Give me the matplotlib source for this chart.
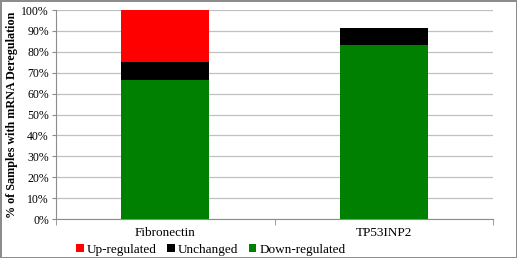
import numpy as np
import matplotlib
matplotlib.use('Agg')
import matplotlib.pyplot as plt
from matplotlib.ticker import PercentFormatter

# Data (percent of samples)
genes = ['Fibronectin', 'TP53INP2']
down_regulated = [66.7, 83.3]
unchanged = [8.3, 8.3]
up_regulated = [25.0, 0.0]

plt.rcParams['font.family'] = ['Liberation Serif', 'DejaVu Serif']

fig = plt.figure(figsize=(5.17, 2.58), dpi=100)
fig.patch.set_edgecolor('#8c8c8c')
fig.patch.set_linewidth(2)
ax = fig.add_axes([0.108, 0.151, 0.846, 0.810])

x = np.arange(len(genes))
width = 0.4
down = np.array(down_regulated)
unch = np.array(unchanged)
up = np.array(up_regulated)

# Stacked bars: down at the bottom, then unchanged, then up
ax.bar(x, down, width, color='#008000', label='Down-regulated', zorder=3)
ax.bar(x, unch, width, bottom=down, color='#000000', label='Unchanged', zorder=3)
ax.bar(x, up, width, bottom=down + unch, color='#ff0000', label='Up-regulated', zorder=3)

ax.set_xlim(-0.5, len(genes) - 0.5)
ax.set_ylim(0, 100)
ax.set_yticks(np.arange(0, 101, 10))
ax.yaxis.set_major_formatter(PercentFormatter(decimals=0))
ax.set_xticks(x)
ax.set_xticklabels(genes)
ax.tick_params(axis='x', length=0, labelsize=9.5, pad=6)
ax.tick_params(axis='y', length=3, labelsize=8.5, color='#8c8c8c', pad=2)

# Category boundary ticks on the x axis
ax.set_xticks([-0.5, 0.5, 1.5], minor=True)
ax.tick_params(axis='x', which='minor', length=4, color='#8c8c8c')

ax.grid(axis='y', color='#c0c0c0', linewidth=0.9, zorder=0)
for side in ['top', 'right']:
    ax.spines[side].set_visible(False)
ax.spines['left'].set_color('#8c8c8c')
ax.spines['bottom'].set_color('#8c8c8c')

ax.set_ylabel('% of Samples with mRNA Deregulation', fontsize=8.7, fontweight='bold', labelpad=2)

# Legend order: up, unchanged, down
handles, labels = ax.get_legend_handles_labels()
order = [2, 1, 0]
ax.legend([handles[i] for i in order], [labels[i] for i in order],
          loc='lower center', bbox_to_anchor=(0.354, -0.207), ncol=3, frameon=False,
          fontsize=9.5, handlelength=0.6, handleheight=0.6, handletextpad=0.2,
          columnspacing=0.8, borderpad=0)

fig.savefig('out.png', dpi=100)
